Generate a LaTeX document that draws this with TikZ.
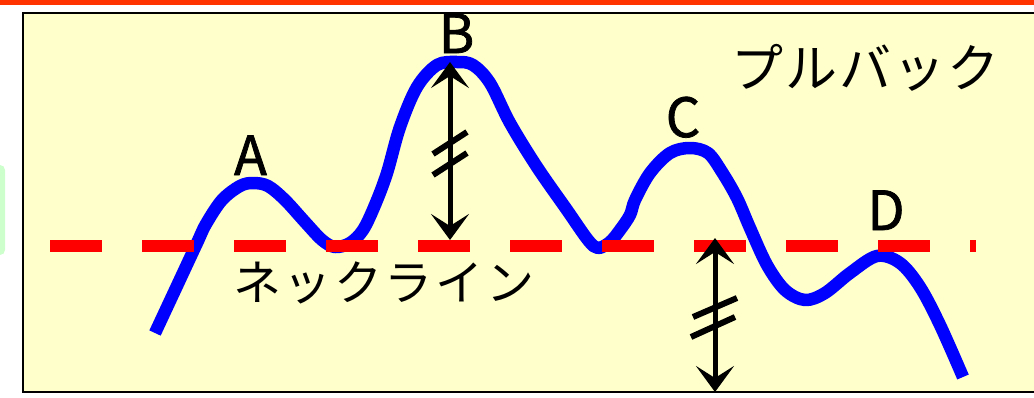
\documentclass[tikz,border=0pt]{standalone}
\usepackage{fontspec}
\setmainfont{Noto Sans CJK JP}
\newfontfamily\peakfont[FakeBold=1.4]{Noto Sans CJK JP}
\usetikzlibrary{arrows.meta}
\definecolor{barc}{RGB}{255,51,0}
\definecolor{paperc}{RGB}{255,255,204}
\definecolor{mintc}{RGB}{204,255,204}
\definecolor{curvec}{RGB}{0,0,255}
\definecolor{neckc}{RGB}{255,0,0}
\begin{document}
\begin{tikzpicture}[x=1pt,y=-1pt,
  price/.style={draw=curvec,line width=12.5pt,line join=round},
  neckline/.style={draw=neckc,line width=12pt,dash pattern=on 52pt off 40pt},
  dim/.style={draw=black,line width=5pt,{Stealth[length=26pt,width=38pt,inset=12pt]}-{Stealth[length=26pt,width=38pt,inset=12pt]}},
  tick/.style={draw=black,line width=6pt},
  peaklbl/.style={inner sep=0pt,anchor=base,font=\peakfont\fontsize{54}{60}\selectfont},
  jplbl/.style={inner sep=0pt,anchor=base west}
]
\useasboundingbox (0,0) rectangle (1034,397);
% top bar
\fill[barc] (0,0) rectangle (1034,4.5);
% green tab
\fill[mintc,rounded corners=5pt] (-10,165) rectangle (5,255);
% frame
\draw[fill=paperc,line width=1.5pt] (22.75,12.75) rectangle (1045,391.75);
% price curve
\draw[price] plot[smooth,tension=0.55] coordinates {
(155,333) (176,288) (197,243) (206,224) (222,200) (240,186) (253,183) (268,186) (285,200) (305,222) (322,240) (335,247) (350,243) (363,230) (375,205) (387,173) (400,127) (417,87) (437,65) (457,62) (473,65) (490,83) (510,123) (537,167) (567,210) (588,240) (598,248) (610,242) (620,230) (630,215) (635,200) (650,173) (670,153) (690,148) (708,153) (722,172) (737,198) (750,228) (767,265) (785,290) (805,300) (825,293) (850,273) (877,256) (900,263) (920,287) (940,325) (963,377)};
% neckline
\coordinate (nlL) at (50,246);
\coordinate (nlR) at (976,246);
\draw[neckline] (nlL) -- (nlR);
% measure B
\coordinate (Btop) at (450,62);
\coordinate (Bbot) at (450,240);
\draw[dim] (Btop) -- (Bbot);
\coordinate (t1a) at (433,154); \coordinate (t1b) at (467,132);
\coordinate (t2a) at (433,175); \coordinate (t2b) at (467,153);
\draw[tick] (t1a) -- (t1b);
\draw[tick] (t2a) -- (t2b);
% projection
\coordinate (Ptop) at (715,238);
\coordinate (Pbot) at (715,392);
\draw[dim] (Ptop) -- (Pbot);
\coordinate (t3a) at (693,317); \coordinate (t3b) at (737,298);
\coordinate (t4a) at (691,337); \coordinate (t4b) at (735,317);
\draw[tick] (t3a) -- (t3b);
\draw[tick] (t4a) -- (t4b);
% labels
\node[peaklbl] (A) at (250.5,175) {A};
\node[peaklbl] (B) at (456.5,53) {B};
\node[peaklbl] (C) at (683,137) {C};
\node[peaklbl] (D) at (886,230) {D};
\node[jplbl,font=\addfontfeature{LetterSpace=3.8}\fontsize{52}{60}\selectfont] (pb) at (731,87) {プルバック};
\node[jplbl,font=\addfontfeature{LetterSpace=5.4}\fontsize{48}{56}\selectfont] (nk) at (233,300) {ネックライン};
\end{tikzpicture}
\end{document}
